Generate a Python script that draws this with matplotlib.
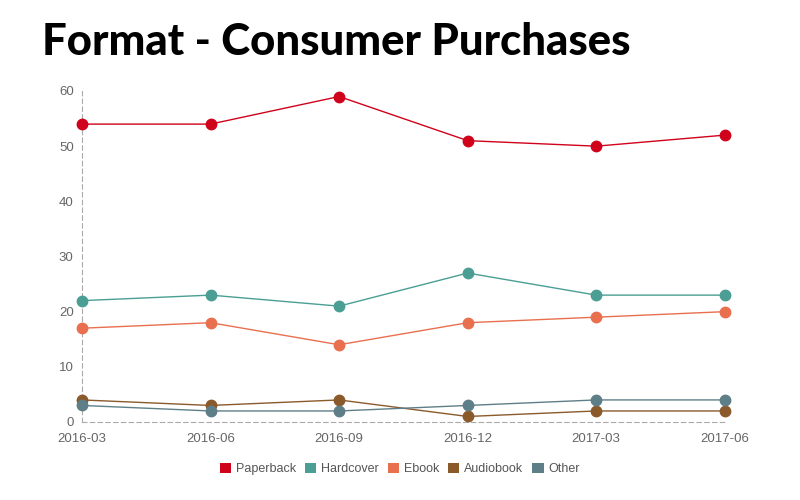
import matplotlib.pyplot as plt
from matplotlib.patches import Patch

quarters = ['2016-03', '2016-06', '2016-09', '2016-12', '2017-03', '2017-06']
paperback = [54, 54, 59, 51, 50, 52]
hardcover = [22, 23, 21, 27, 23, 23]
ebook = [17, 18, 14, 18, 19, 20]
audiobook = [4, 3, 4, 1, 2, 2]
other = [3, 2, 2, 3, 4, 4]

series = [
    ('Paperback', paperback, '#d0021b'),
    ('Hardcover', hardcover, '#4a9e94'),
    ('Ebook', ebook, '#e8704f'),
    ('Audiobook', audiobook, '#8b5a2b'),
    ('Other', other, '#5f7f88'),
]

plt.rcParams['font.family'] = ['Liberation Sans', 'DejaVu Sans']

fig = plt.figure(figsize=(8, 5), dpi=100)
ax = fig.add_axes([0.1025, 0.156, 0.8035, 0.662])

x = list(range(len(quarters)))
for name, vals, color in series:
    ax.plot(x, vals, color=color, linewidth=1, marker='o', markersize=7.5,
            clip_on=False, zorder=3)

ax.set_xlim(0, len(quarters) - 1)
ax.set_ylim(0, 60)
ax.set_xticks(x)
ax.set_xticklabels(quarters)
ax.set_yticks(range(0, 61, 10))

for side in ['top', 'right']:
    ax.spines[side].set_visible(False)
for side in ['left', 'bottom']:
    ax.spines[side].set_linestyle((0, (4, 3)))
    ax.spines[side].set_color('#aaaaaa')
    ax.spines[side].set_linewidth(0.8)

ax.tick_params(length=0, colors='#666666', labelsize=9.5)
ax.tick_params(axis='x', pad=8)
ax.tick_params(axis='y', pad=6)

fig.text(0.052, 0.89, 'Format - Consumer Purchases', fontsize=31.5,
         fontweight='black', family=['Lato', 'DejaVu Sans'], color='black')

handles = [Patch(facecolor=c, label=n) for n, _, c in series]
fig.legend(handles=handles, loc='center', bbox_to_anchor=(0.5, 0.062),
           ncol=5, frameon=False, fontsize=9, handlelength=0.9,
           handleheight=0.9, handletextpad=0.4, columnspacing=0.7,
           labelcolor='#555555')

fig.savefig('out.png', dpi=100)
